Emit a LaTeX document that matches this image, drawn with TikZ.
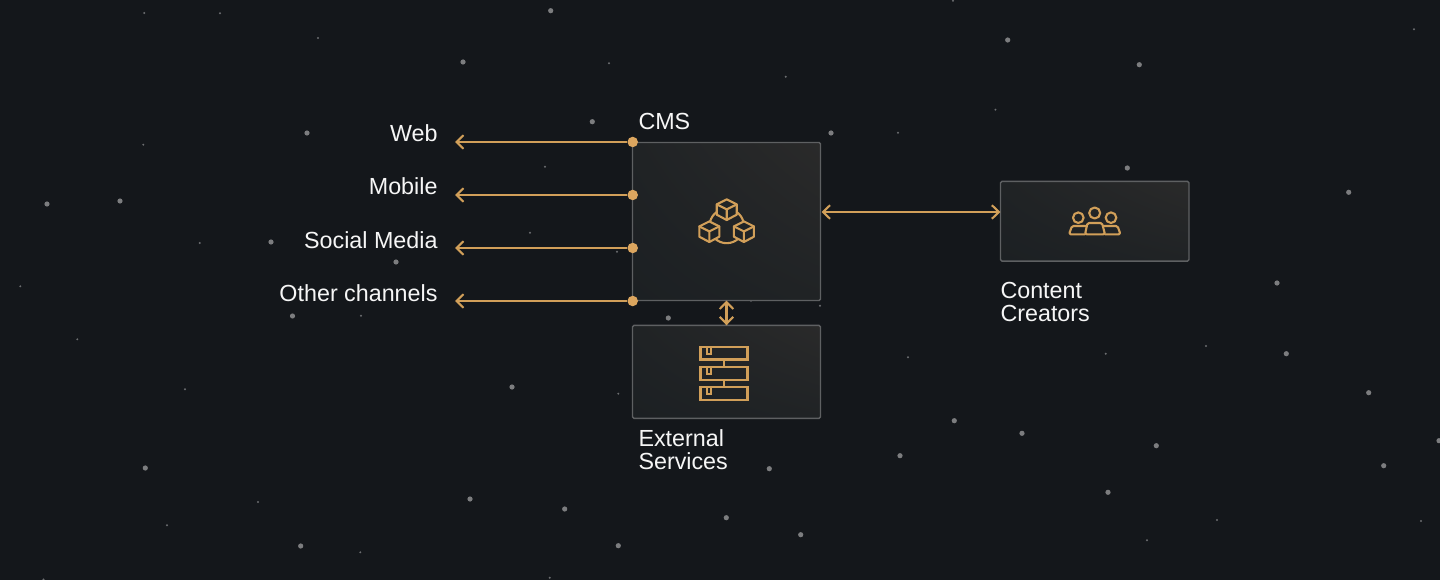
\documentclass[tikz,border=0pt]{standalone}
\usepackage{fontspec}
\setmainfont{Liberation Sans}
\usetikzlibrary{arrows.meta,shadings}
\definecolor{bgc}{HTML}{14171B}
\definecolor{gold}{HTML}{D19F59}
\definecolor{dotc}{HTML}{DCA65F}
\definecolor{edgec}{HTML}{5E6062}
\definecolor{panelA}{HTML}{1C2023}
\definecolor{panelB}{HTML}{2A2A2A}
\definecolor{panelM}{HTML}{202325}
\definecolor{iconbg}{HTML}{202426}
\definecolor{starA}{HTML}{7C7D7F}
\definecolor{starB}{HTML}{6C6E70}
\definecolor{txt}{HTML}{F6F6F6}
\tikzset{
  panel/.style={draw=edgec,line width=1.4pt,rounded corners=1.5pt,inner sep=0pt,outer sep=0pt,
    shade,shading=bilinear interpolation,lower left=panelA,upper right=panelB,upper left=panelM,lower right=panelM},
  lbl/.style={text=txt,inner sep=0pt,outer sep=0pt,font=\fontsize{23.3}{23}\selectfont},
  portdot/.style={circle,fill=dotc,inner sep=0pt,minimum size=10.5pt,outer sep=0pt},
  link/.style={draw=gold,line width=2.2pt},
  barbtip/.style={},
  outlink/.style={link,-{Straight Barb[length=7pt,width=13.5pt,line width=2.1pt]}},
  twoway/.style={link,{Straight Barb[length=7pt,width=13.5pt,line width=2.1pt]}-{Straight Barb[length=7pt,width=13.5pt,line width=2.1pt]}},
  iconline/.style={draw=gold,line width=2.1pt,line join=round,line cap=round},
}
\newcommand{\cubeglyph}[2]{%
  \begin{scope}[shift={(#1,#2)}]
    \path[iconline,fill=iconbg] (0,-10.3) -- (10,-5.3) -- (10,5) -- (0,10.3) -- (-10,5) -- (-10,-5.3) -- cycle;
    \path[iconline] (-10,-5.3) -- (0,-0.3) -- (10,-5.3) (0,-0.3) -- (0,10.3);
  \end{scope}}
\newcommand{\rackglyph}[1]{%
  \begin{scope}[shift={(700.5,#1)}]
    \path[iconline,line width=2.3pt,line cap=butt,line join=miter] (0,0) rectangle (47,12.6);
    \path[iconline,line width=1.8pt,line cap=butt,line join=miter] (6.3,0) -- (6.3,7) -- (10.3,7) -- (10.3,0);
  \end{scope}}
\begin{document}
\begin{tikzpicture}[x=1pt,y=-1pt]
\useasboundingbox (0,0) rectangle (1440,580);
\clip (0,0) rectangle (1440,580);
\fill[bgc] (0,0) rectangle (1440,580);
% large stars
\foreach \a/\b in {463/62,307/133,47/204,120/201,271/242,396/262,292.5/316,145.3/468,300.7/546,470/499,
  550.7/10.7,592.3/121.7,831/133,668.3/318,512/387,564.7/509,618.3/545.7,726.3/517.7,800.7/534.7,769.3/468.7,900/455.7,954.3/420.7,
  1007.7/40,1139.3/64.7,1127.3/168,1348.7/192.3,1277/283,1022/433.3,1156.3/445.7,1108/492.3,1286.3/353.7,1368.7/392.7,1383.7/465.7,1439/440.7}
  {\fill[starA] (\a,\b) circle (2.6pt);}
% small stars
\foreach \a/\b in {144.3/13,220/13.3,318/38,143.3/144.7,199.7/243,20.3/286.3,361/315.7,77.3/339.3,185/389.3,258/502,167/525.3,360.3/552.3,43.5/579.5,
  609/63.3,785.7/76.7,545/166.7,530/232.7,617/251.7,898/132.7,953/0.7,618.3/393.7,908/357.3,820/305.7,751/300.8,549.7/577.7,
  995.4/109.7,1414/29.2,1105.7/353.7,1206/346,1217/520,1147/540.3,1421/521}
  {\fill[starB] (\a,\b) circle (1.1pt);}

% panels
\node[panel,minimum width=188pt,minimum height=158pt] (cms) at (726.5,221.5) {};
\node[panel,minimum width=188pt,minimum height=93pt] (ext) at (726.5,371.8) {};
\node[panel,minimum width=188.5pt,minimum height=79.7pt] (cc) at (1094.7,221.2) {};

% labels
\node[lbl,anchor=base west] (cmsl) at (638.5,130) {CMS};
\node[lbl,anchor=base west] (extl1) at (638.5,446) {External};
\node[lbl,anchor=base west] (extl2) at (638.5,469) {Services};
\node[lbl,anchor=base west] (ccl1) at (1000.5,298.5) {Content};
\node[lbl,anchor=base west] (ccl2) at (1000.5,321.5) {Creators};
\node[lbl,anchor=base east] (web) at (437.5,142) {Web};
\node[lbl,anchor=base east] (mob) at (437.5,195) {Mobile};
\node[lbl,anchor=base east] (soc) at (437.5,248) {Social Media};
\node[lbl,anchor=base east] (oth) at (437.5,301) {Other channels};

% output ports and connectors
\node[portdot] (p1) at (632.7,142) {};
\node[portdot] (p2) at (632.7,195) {};
\node[portdot] (p3) at (632.7,248) {};
\node[portdot] (p4) at (632.7,301) {};
\coordinate (t1) at (455,142);
\coordinate (t2) at (455,195);
\coordinate (t3) at (455,248);
\coordinate (t4) at (455,301);
\draw[outlink] (p1) -- (t1);
\draw[outlink] (p2) -- (t2);
\draw[outlink] (p3) -- (t3);
\draw[outlink] (p4) -- (t4);
\coordinate (cmsE) at (cms.east |- 0,212);
\coordinate (ccW) at (cc.west |- 0,212);
\draw[twoway,shorten <=1pt] (cmsE) -- (ccW);
\draw[twoway] (cms.south) -- (ext.north);

% CMS icon
\path[iconline] (726.7,226) circle (17.2pt);
\cubeglyph{726.7}{209.7}
\cubeglyph{709.3}{231.7}
\cubeglyph{743.9}{231.7}

% rack icon
\rackglyph{347}
\rackglyph{367.2}
\rackglyph{387.2}
\path[iconline,line cap=butt] (723.7,359.6) -- (723.7,367.2) (723.7,379.8) -- (723.7,387.2);

% people icon
\path[iconline] (1078.3,217.7) circle (5.3pt) (1094.7,213) circle (5.5pt) (1111,217.7) circle (5.3pt);
\path[iconline,rounded corners=1.5pt] (1085.5,226) -- (1072,226) -- (1069,234.3) -- (1085,234.3);
\path[iconline,rounded corners=1.5pt] (1103.5,226) -- (1117.5,226) -- (1120.5,234.3) -- (1105,234.3);
\path[iconline,rounded corners=1.5pt] (1085,234.3) -- (1087.5,223) -- (1102,223) -- (1105,234.3) -- cycle;
\end{tikzpicture}
\end{document}
